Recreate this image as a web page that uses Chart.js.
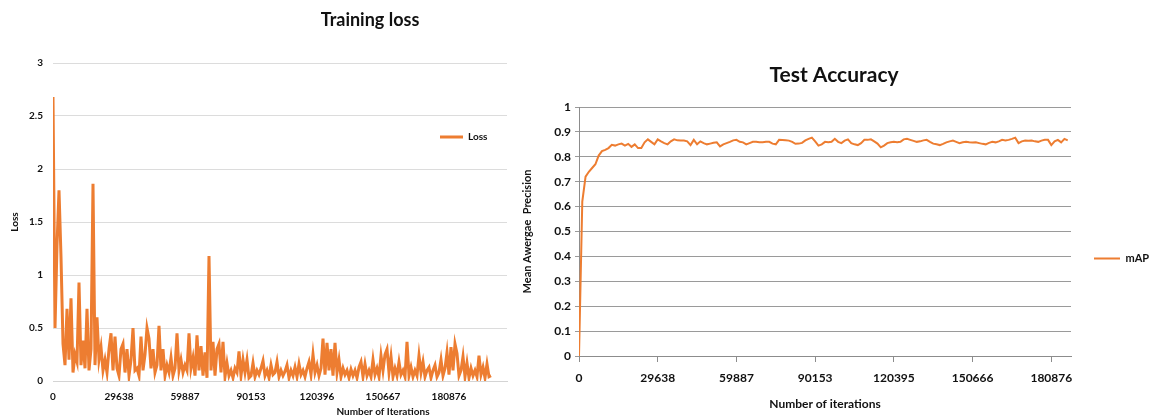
<!DOCTYPE html>
<html lang="en">
<head>
<meta charset="utf-8">
<title>Training loss / Test Accuracy</title>
<script src="https://cdn.jsdelivr.net/npm/chart.js@4.4.0/dist/chart.umd.min.js"></script>
<style>
  html, body { margin: 0; padding: 0; background: #fff; }
  #wrap { position: relative; width: 1153px; height: 419px; overflow: hidden; }
  #lossChart { position: absolute; left: 0; top: 0; }
  #mapChart { position: absolute; left: 515px; top: 0; }
</style>
</head>
<body>
<div id="wrap">
  <canvas id="lossChart" width="515" height="419"></canvas>
  <canvas id="mapChart" width="638" height="419"></canvas>
</div>
<script>
// Training loss, one sample per point on the x axis
const lossValues = [
  2.68, 0.5, 1.28, 1.8, 1.17, 0.35, 0.15, 0.68, 0.2, 0.78,
  0.08, 0.25, 0.18, 0.93, 0.15, 0.38, 0.12, 0.68, 0.1, 0.3,
  1.86, 0.15, 0.6, 0.2, 0.32, 0.1, 0.2, 0.08, 0.3, 0.45,
  0.1, 0.42, 0.12, 0.05, 0.3, 0.35, 0.08, 0.3, 0.05, 0.2,
  0.5, 0.1, 0.12, 0.05, 0.42, 0.1, 0.25, 0.5, 0.4, 0.12,
  0.3, 0.08, 0.15, 0.52, 0.1, 0.3, 0.05, 0.15, 0.08, 0.22,
  0.05, 0.12, 0.45, 0.1, 0.2, 0.08, 0.15, 0.1, 0.45, 0.12,
  0.22, 0.05, 0.43, 0.1, 0.33, 0.05, 0.27, 0.03, 1.18, 0.1,
  0.37, 0.05, 0.3, 0.35, 0.08, 0.37, 0.04, 0.17, 0.05, 0.1,
  0.03, 0.12, 0.08, 0.28, 0.05, 0.2, 0.08, 0.2, 0.03, 0.05,
  0.17, 0.04, 0.1, 0.06, 0.12, 0.19, 0.05, 0.1, 0.03, 0.15,
  0.06, 0.08, 0.18, 0.04, 0.1, 0.05, 0.09, 0.15, 0.03, 0.1,
  0.05, 0.13, 0.04, 0.16, 0.06, 0.1, 0.04, 0.12, 0.18, 0.06,
  0.25, 0.08, 0.15, 0.05, 0.12, 0.4, 0.06, 0.36, 0.1, 0.3,
  0.05, 0.36, 0.08, 0.2, 0.04, 0.12, 0.06, 0.1, 0.03, 0.11,
  0.05, 0.1, 0.03, 0.13, 0.18, 0.04, 0.16, 0.05, 0.1, 0.04,
  0.2, 0.06, 0.12, 0.04, 0.24, 0.1, 0.25, 0.3, 0.08, 0.23,
  0.04, 0.12, 0.05, 0.18, 0.06, 0.1, 0.04, 0.37, 0.05, 0.13,
  0.04, 0.1, 0.05, 0.24, 0.08, 0.18, 0.04, 0.1, 0.13, 0.03,
  0.1, 0.15, 0.04, 0.08, 0.2, 0.05, 0.12, 0.27, 0.06, 0.32,
  0.1, 0.35, 0.26, 0.05, 0.1, 0.23, 0.04, 0.17, 0.03, 0.12,
  0.05, 0.1, 0.04, 0.24, 0.06, 0.13, 0.03, 0.16, 0.04, 0.05
];
const lossTickIndex = [0, 33, 66, 99, 132, 165, 198];
const lossTickLabels = ['0', '29638', '59887', '90153', '120396', '150667', '180876'];

// Test accuracy (mAP)
const mapValues = [
  0, 0.62, 0.72, 0.74, 0.755, 0.77, 0.805, 0.823, 0.828, 0.835,
  0.848, 0.845, 0.85, 0.853, 0.845, 0.852, 0.84, 0.85, 0.835, 0.835,
  0.858, 0.87, 0.86, 0.85, 0.87, 0.862, 0.855, 0.85, 0.862, 0.87,
  0.866, 0.865, 0.865, 0.862, 0.847, 0.868, 0.85, 0.862, 0.855, 0.85,
  0.853, 0.856, 0.858, 0.842, 0.85, 0.855, 0.86, 0.866, 0.868, 0.86,
  0.858, 0.85, 0.855, 0.86, 0.86, 0.858, 0.858, 0.86, 0.86, 0.853,
  0.85, 0.868, 0.867, 0.866, 0.865, 0.86, 0.852, 0.853, 0.856, 0.866,
  0.872, 0.877, 0.862, 0.845, 0.85, 0.86, 0.858, 0.86, 0.872, 0.86,
  0.855, 0.865, 0.87, 0.855, 0.85, 0.847, 0.855, 0.868, 0.868, 0.87,
  0.862, 0.853, 0.838, 0.845, 0.855, 0.858, 0.86, 0.858, 0.86, 0.87,
  0.872, 0.868, 0.864, 0.86, 0.862, 0.866, 0.868, 0.86, 0.853, 0.85,
  0.847, 0.852, 0.858, 0.862, 0.865, 0.86, 0.855, 0.858, 0.86, 0.858,
  0.857, 0.858, 0.855, 0.852, 0.85, 0.856, 0.86, 0.858, 0.862, 0.868,
  0.866, 0.868, 0.872, 0.877, 0.855, 0.862, 0.865, 0.864, 0.865, 0.862,
  0.86, 0.865, 0.868, 0.868, 0.847, 0.862, 0.868, 0.858, 0.872, 0.866
];
const mapTickIndex = [0, 24, 48, 72, 96, 120, 144];
const mapTickLabels = ['0', '29638', '59887', '90153', '120395', '150666', '180876'];

const ORANGE = '#ed7d31';
const FONT = 'Lato, "DejaVu Sans", sans-serif';

Chart.defaults.font.family = FONT;
Chart.defaults.color = '#111';
Chart.defaults.animation = false;

/**
 * Short number label, Excel style (3 instead of 3.0)
 * @param {number} v - tick value
 * @returns {string}
 */
function plainNumber(v) {
  return String(Math.round(v * 100) / 100);
}

/**
 * Move the legend box to a fixed spot (Excel puts it inside the plot)
 * @param {number} x - left edge, canvas pixels
 * @param {number} y - top edge, canvas pixels
 */
function legendAt(x, y) {
  return {
    id: 'legendAt',
    beforeDraw(chart) {
      const legend = chart.legend;
      if (!legend) return;
      legend.left = x;
      legend.top = y;
      legend.right = x + 150;
      legend.bottom = y + 40;
    }
  };
}

/**
 * Draw free standing bold labels (titles that are not centred on the plot)
 * @param {Array} items - {text, x, y, size}
 */
function freeText(items) {
  return {
    id: 'freeText',
    afterDraw(chart) {
      const ctx = chart.ctx;
      ctx.save();
      ctx.fillStyle = '#111';
      ctx.textAlign = 'center';
      ctx.textBaseline = 'middle';
      for (const item of items) {
        ctx.font = `bold ${item.size}px ${FONT}`;
        ctx.fillText(item.text, item.x, item.y);
      }
      ctx.restore();
    }
  };
}

function createLossChart() {
  const ctx = document.getElementById('lossChart');
  return new Chart(ctx, {
    type: 'line',
    data: {
      labels: lossValues.map((v, i) => i),
      datasets: [{
        label: 'Loss',
        data: lossValues,
        borderColor: ORANGE,
        backgroundColor: ORANGE,
        borderWidth: 3,
        pointRadius: 0,
        tension: 0,
        fill: false
      }]
    },
    options: {
      responsive: false,
      animation: false,
      layout: { padding: { top: 63, right: 8, left: 0, bottom: 0 } },
      plugins: {
        title: { display: false },
        tooltip: { enabled: false },
        legend: {
          position: 'chartArea',
          align: 'start',
          labels: { boxWidth: 23, boxHeight: 0, padding: 4, font: { size: 10, weight: 'bold' } }
        }
      },
      scales: {
        x: {
          type: 'linear',
          min: 0,
          max: 227,
          afterFit: (s) => { s.height = 38; },
          afterBuildTicks: (s) => { s.ticks = lossTickIndex.map((v) => ({ value: v })); },
          ticks: {
            autoSkip: false,
            maxRotation: 0,
            padding: 10,
            font: { size: 10, weight: 'bold' },
            callback: (v, i) => lossTickLabels[i]
          },
          grid: { drawOnChartArea: false, drawTicks: false },
          border: { display: true, color: '#d4d4d4' }
        },
        y: {
          min: 0,
          max: 3,
          afterFit: (s) => { s.width = 53; },
          ticks: { stepSize: 0.5, padding: 10, font: { size: 10, weight: 'bold' }, callback: plainNumber },
          grid: { color: '#dcdcdc', drawTicks: false },
          border: { display: false },
          title: {
            display: true,
            text: 'Loss',
            font: { size: 10, weight: 'bold' },
            padding: { top: 9, bottom: 0 }
          }
        }
      }
    },
    plugins: [
      legendAt(436, 128),
      freeText([
        { text: 'Training loss', x: 370, y: 20, size: 18 },
        { text: 'Number of Iterations', x: 383, y: 412, size: 10 }
      ])
    ]
  });
}

function createMapChart() {
  const ctx = document.getElementById('mapChart');
  return new Chart(ctx, {
    type: 'line',
    data: {
      labels: mapValues.map((v, i) => i),
      datasets: [{
        label: 'mAP',
        data: mapValues,
        borderColor: ORANGE,
        backgroundColor: ORANGE,
        borderWidth: 2,
        pointRadius: 0,
        tension: 0,
        fill: false
      }]
    },
    options: {
      responsive: false,
      animation: false,
      layout: { padding: { top: 107, right: 82, left: 0, bottom: 0 } },
      plugins: {
        tooltip: { enabled: false },
        title: { display: false },
        legend: {
          position: 'chartArea',
          align: 'start',
          labels: { boxWidth: 26, boxHeight: 0, padding: 4, font: { size: 11, weight: 'bold' } }
        }
      },
      scales: {
        x: {
          type: 'linear',
          min: 0,
          max: 150,
          afterFit: (s) => { s.height = 63; },
          afterBuildTicks: (s) => { s.ticks = mapTickIndex.map((v) => ({ value: v })); },
          ticks: {
            autoSkip: false,
            maxRotation: 0,
            padding: 9,
            font: { size: 12, weight: 'bold' },
            callback: (v, i) => mapTickLabels[i]
          },
          grid: { drawOnChartArea: false, drawTicks: true, tickLength: 6, color: '#8c8c8c' },
          border: { display: true, color: '#8c8c8c' },
          title: {
            display: true,
            text: 'Number of iterations',
            font: { size: 12, weight: 'bold' },
            padding: { top: 0, bottom: 8 }
          }
        },
        y: {
          min: 0,
          max: 1,
          afterFit: (s) => { s.width = 64; },
          ticks: { stepSize: 0.1, padding: 4, font: { size: 12, weight: 'bold' }, callback: plainNumber },
          grid: { color: '#9a9a9a', drawTicks: true, tickLength: 4 },
          border: { display: true, color: '#8c8c8c' },
          title: {
            display: true,
            text: 'Mean Awergae  Precision',
            font: { size: 11, weight: 'bold' },
            padding: { top: 6, bottom: 0 }
          }
        }
      }
    },
    plugins: [
      legendAt(575, 249),
      freeText([
        { text: 'Test Accuracy', x: 319, y: 75, size: 21 }
      ])
    ]
  });
}

document.addEventListener('DOMContentLoaded', () => {
  createLossChart();
  createMapChart();
});
</script>
</body>
</html>
